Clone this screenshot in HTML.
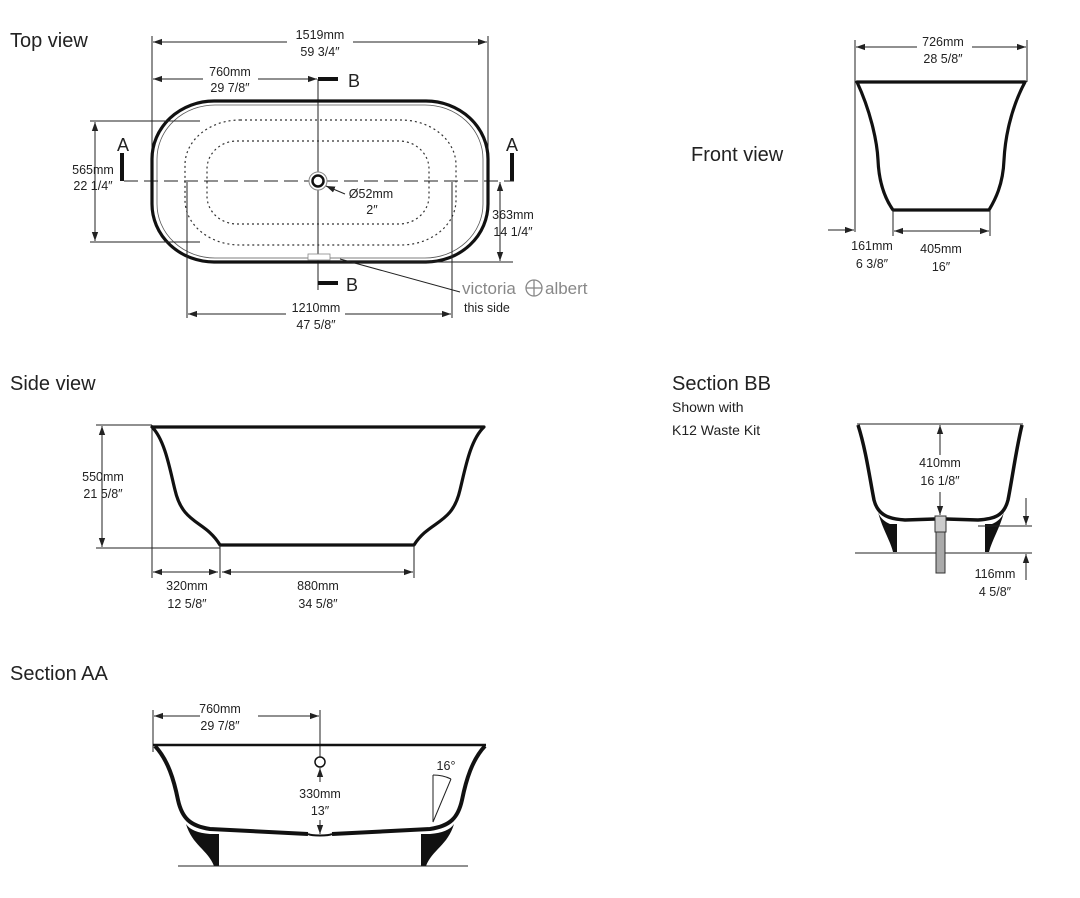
<!DOCTYPE html>
<html><head><meta charset="utf-8"><style>
html,body{margin:0;padding:0;background:#fff;width:1080px;height:898px;overflow:hidden}
svg{display:block}
text{font-family:"Liberation Sans",sans-serif;fill:#222}
.t{font-size:20px}
.d{font-size:12.5px;text-anchor:middle}
.l{stroke:#222;stroke-width:1;fill:none}
.b{stroke:#111;stroke-width:3.2;fill:none;stroke-linejoin:round}
</style></head><body>
<svg width="1080" height="898" viewBox="0 0 1080 898">
<defs>
<marker id="a" viewBox="0 0 10 10" refX="10" refY="5" markerWidth="9" markerHeight="9" orient="auto-start-reverse" markerUnits="userSpaceOnUse"><path d="M0,1.5 L10,5 L0,8.5 z" fill="#222"/></marker>
</defs>

<!-- TOP VIEW -->
<text class="t" x="10" y="47">Top view</text>
<line class="l" x1="152" y1="36" x2="152" y2="180"/>
<line class="l" x1="488" y1="36" x2="488" y2="180"/>
<line class="l" x1="153" y1="42" x2="287" y2="42" marker-start="url(#a)"/>
<line class="l" x1="353" y1="42" x2="487" y2="42" marker-end="url(#a)"/>
<text class="d" x="320" y="39">1519mm</text>
<text class="d" x="320" y="56">59 3/4″</text>
<line class="l" x1="153" y1="79" x2="203" y2="79" marker-start="url(#a)"/>
<line class="l" x1="258" y1="79" x2="317" y2="79" marker-end="url(#a)"/>
<text class="d" x="230" y="76">760mm</text>
<text class="d" x="230" y="92">29 7/8″</text>
<line class="l" x1="318" y1="79" x2="318" y2="290"/>
<rect x="318" y="77" width="20" height="4" fill="#111"/>
<text x="348" y="87" style="font-size:18px">B</text>
<rect x="318" y="281" width="20" height="4" fill="#111"/>
<text x="346" y="291" style="font-size:18px">B</text>
<rect x="120" y="153" width="4" height="28" fill="#111"/>
<text x="117" y="151" style="font-size:18px">A</text>
<rect x="510" y="153" width="4" height="28" fill="#111"/>
<text x="506" y="151" style="font-size:18px">A</text>
<line x1="124" y1="181" x2="514" y2="181" stroke="#222" stroke-width="1" stroke-dasharray="14,6"/>
<rect x="152" y="101" width="336" height="161" rx="62" ry="58" class="b"/>
<rect x="157" y="105" width="326" height="153" rx="58" ry="54" fill="none" stroke="#555" stroke-width="0.8"/>
<rect x="185" y="120" width="271" height="125" rx="55" ry="45" fill="none" stroke="#333" stroke-width="1.2" stroke-dasharray="2,3"/>
<rect x="207" y="141" width="222" height="83" rx="30" ry="28" fill="none" stroke="#333" stroke-width="1.2" stroke-dasharray="2,3"/>
<circle cx="318" cy="181" r="9" fill="#fff" stroke="#888" stroke-width="1"/>
<circle cx="318" cy="181" r="5.5" fill="none" stroke="#111" stroke-width="2.5"/>
<line class="l" x1="345" y1="194" x2="326" y2="186" marker-end="url(#a)"/>
<text class="d" x="371" y="198">Ø52mm</text>
<text class="d" x="372" y="214">2″</text>
<line class="l" x1="90" y1="121" x2="200" y2="121"/>
<line class="l" x1="90" y1="242" x2="200" y2="242"/>
<line class="l" x1="95" y1="122" x2="95" y2="241" marker-start="url(#a)" marker-end="url(#a)"/>
<text class="d" x="93" y="174">565mm</text>
<text class="d" x="93" y="190">22 1/4″</text>
<line class="l" x1="330" y1="262" x2="513" y2="262"/>
<line class="l" x1="500" y1="182" x2="500" y2="261" marker-start="url(#a)" marker-end="url(#a)"/>
<text class="d" x="513" y="219">363mm</text>
<text class="d" x="513" y="236">14 1/4″</text>
<rect x="308" y="254" width="22" height="6" fill="#fff" stroke="#888" stroke-width="0.8"/>
<line class="l" x1="340" y1="259" x2="460" y2="292"/>
<text x="462" y="294" style="font-size:17px;fill:#888">victoria</text>
<circle cx="534" cy="288" r="8" fill="none" stroke="#888" stroke-width="1.3"/>
<line x1="526" y1="288" x2="542" y2="288" stroke="#888" stroke-width="1.3"/>
<line x1="534" y1="280" x2="534" y2="296" stroke="#888" stroke-width="1.3"/>
<text x="545" y="294" style="font-size:17px;fill:#888">albert</text>
<text x="464" y="312" style="font-size:12.5px">this side</text>
<line class="l" x1="187" y1="182" x2="187" y2="318"/>
<line class="l" x1="452" y1="182" x2="452" y2="318"/>
<line class="l" x1="188" y1="314" x2="286" y2="314" marker-start="url(#a)"/>
<line class="l" x1="345" y1="314" x2="451" y2="314" marker-end="url(#a)"/>
<text class="d" x="316" y="312">1210mm</text>
<text class="d" x="316" y="329">47 5/8″</text>

<!-- FRONT VIEW -->
<text class="t" x="691" y="161">Front view</text>
<line class="l" x1="855" y1="40" x2="855" y2="232"/>
<line class="l" x1="1027" y1="40" x2="1027" y2="82"/>
<line class="l" x1="856" y1="47" x2="917" y2="47" marker-start="url(#a)"/>
<line class="l" x1="972" y1="47" x2="1026" y2="47" marker-end="url(#a)"/>
<text class="d" x="943" y="46">726mm</text>
<text class="d" x="943" y="63">28 5/8″</text>
<path class="b" d="M857,82 L1025,82 C1010,110 1005,140 1004,160 C1003,185 995,200 989,210 L893,210 C886,200 879,185 878,160 C877,140 870,110 857,82 Z"/>
<line class="l" x1="828" y1="230" x2="854" y2="230" marker-end="url(#a)"/>
<line class="l" x1="893" y1="210" x2="893" y2="236"/>
<line class="l" x1="990" y1="210" x2="990" y2="236"/>
<line class="l" x1="894" y1="231" x2="989" y2="231" marker-start="url(#a)" marker-end="url(#a)"/>
<text class="d" x="872" y="250">161mm</text>
<text class="d" x="872" y="268">6  3/8″</text>
<text class="d" x="941" y="253">405mm</text>
<text class="d" x="941" y="271">16″</text>

<!-- SIDE VIEW -->
<text class="t" x="10" y="390">Side view</text>
<line class="l" x1="96" y1="425" x2="152" y2="425"/>
<line class="l" x1="96" y1="548" x2="220" y2="548"/>
<line class="l" x1="102" y1="426" x2="102" y2="547" marker-start="url(#a)" marker-end="url(#a)"/>
<text class="d" x="103" y="481">550mm</text>
<text class="d" x="103" y="498">21 5/8″</text>
<line class="l" x1="152" y1="425" x2="152" y2="578"/>
<path class="b" d="M152,427 L484,427 C470,440 465,470 460,490 C452,525 430,520 414,545 L220,545 C205,520 183,525 175,490 C170,470 165,440 152,427 Z"/>
<line class="l" x1="220" y1="545" x2="220" y2="578"/>
<line class="l" x1="414" y1="545" x2="414" y2="578"/>
<line class="l" x1="153" y1="572" x2="218" y2="572" marker-start="url(#a)" marker-end="url(#a)"/>
<line class="l" x1="222" y1="572" x2="413" y2="572" marker-start="url(#a)" marker-end="url(#a)"/>
<text class="d" x="187" y="590">320mm</text>
<text class="d" x="187" y="608">12 5/8″</text>
<text class="d" x="318" y="590">880mm</text>
<text class="d" x="318" y="608">34 5/8″</text>

<!-- SECTION BB -->
<text class="t" x="672" y="390">Section BB</text>
<text x="672" y="412" style="font-size:14px">Shown with</text>
<text x="672" y="435" style="font-size:14px">K12 Waste Kit</text>
<line class="l" x1="857" y1="424" x2="1023" y2="424"/>
<path d="M858,425 C866,450 870,480 874,500 C878,516 890,519 905,520 L935,519 M946,519 L978,520 C994,519 1004,516 1008,500 C1012,480 1016,450 1022,425" fill="none" stroke="#111" stroke-width="3.5"/>
<path d="M878,512 C882,528 890,540 893,552 L897,552 L897,524 L890,524 C885,522 880,518 878,512 Z" fill="#111"/>
<path d="M1004,512 C1000,528 992,540 989,552 L985,552 L985,524 L992,524 C997,522 1002,518 1004,512 Z" fill="#111"/>
<line class="l" x1="855" y1="553" x2="1032" y2="553"/>
<line class="l" x1="978" y1="526" x2="1032" y2="526"/>
<rect x="935" y="516" width="11" height="16" fill="#ccc" stroke="#333" stroke-width="1"/>
<rect x="936" y="532" width="9" height="41" fill="#aaa" stroke="#333" stroke-width="1"/>
<line class="l" x1="940" y1="425" x2="940" y2="455" marker-start="url(#a)"/>
<line class="l" x1="940" y1="492" x2="940" y2="515" marker-end="url(#a)"/>
<text class="d" x="940" y="467">410mm</text>
<text class="d" x="940" y="485">16 1/8″</text>
<line class="l" x1="1026" y1="498" x2="1026" y2="525" marker-end="url(#a)"/>
<line class="l" x1="1026" y1="580" x2="1026" y2="554" marker-end="url(#a)"/>
<text class="d" x="995" y="578">116mm</text>
<text class="d" x="995" y="596">4 5/8″</text>

<!-- SECTION AA -->
<text class="t" x="10" y="680">Section AA</text>
<line class="l" x1="153" y1="710" x2="153" y2="752"/>
<line class="l" x1="154" y1="716" x2="200" y2="716" marker-start="url(#a)"/>
<line class="l" x1="258" y1="716" x2="319" y2="716" marker-end="url(#a)"/>
<text class="d" x="220" y="713">760mm</text>
<text class="d" x="220" y="730">29 7/8″</text>
<line class="l" x1="320" y1="710" x2="320" y2="757"/>
<line x1="153" y1="745" x2="486" y2="745" stroke="#111" stroke-width="2.5"/>
<path d="M155,746 C168,760 174,780 178,800 C182,818 190,826 210,829 L308,834 M332,834 L430,829 C450,826 458,818 462,800 C466,780 472,760 485,746" fill="none" stroke="#111" stroke-width="4" stroke-linejoin="round"/>
<path d="M308,834 C312,836 328,836 332,834" fill="none" stroke="#111" stroke-width="2"/>
<path d="M186,824 C192,845 208,850 214,866 L219,866 L219,834 L210,834 C198,833 190,830 186,824 Z" fill="#111"/>
<path d="M454,824 C448,845 432,850 426,866 L421,866 L421,834 L430,834 C442,833 450,830 454,824 Z" fill="#111"/>
<line class="l" x1="178" y1="866" x2="468" y2="866"/>
<circle cx="320" cy="762" r="5" fill="none" stroke="#111" stroke-width="1.5"/>
<line class="l" x1="320" y1="782" x2="320" y2="768" marker-end="url(#a)"/>
<line class="l" x1="320" y1="820" x2="320" y2="834" marker-end="url(#a)"/>
<text class="d" x="320" y="798">330mm</text>
<text class="d" x="320" y="815">13″</text>
<path class="l" d="M433,775 L433,822 L451,779"/>
<path class="l" d="M433,775 Q443,775 451,779"/>
<text class="d" x="446" y="770">16°</text>
</svg>
</body></html>
